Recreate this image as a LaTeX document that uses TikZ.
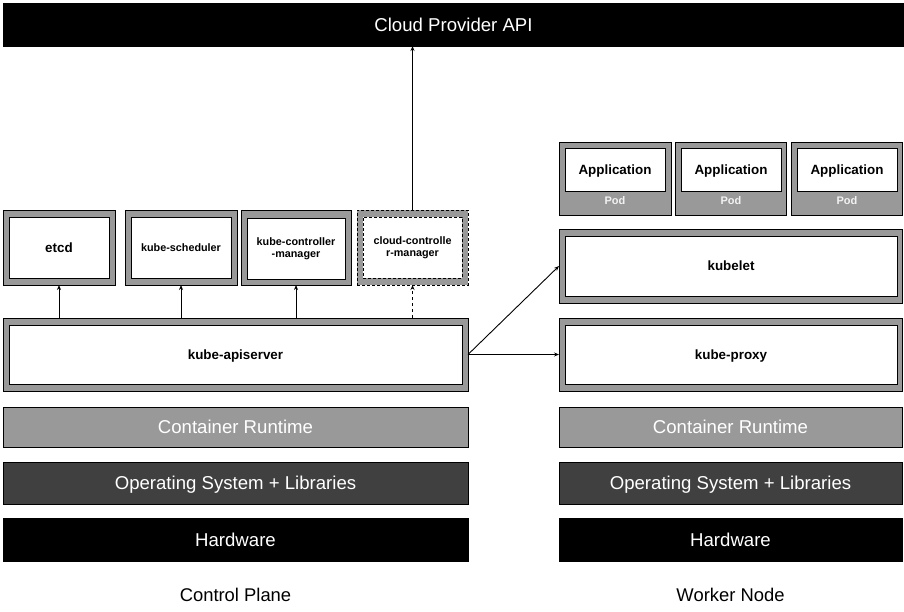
\documentclass[tikz,border=0pt]{standalone}
\usepackage{fontspec}
\setmainfont{Liberation Sans}
\usetikzlibrary{arrows.meta}
\definecolor{midgray}{HTML}{999999}
\definecolor{darkgray2}{HTML}{404040}
\definecolor{podtext}{HTML}{F2F2F2}
\tikzset{
  box/.style={draw=black, line width=1pt, inner sep=0pt, outer sep=0pt, rectangle, align=center},
  outerbox/.style={box, fill=midgray},
  innerbox/.style={box, fill=white, font=\bfseries\fontsize{10.8}{12}\selectfont},
  bigbold/.style={font=\bfseries\fontsize{13.4}{15}\selectfont, text depth=0pt},
  layer/.style={box, text=white, font=\fontsize{18.6}{21}\selectfont, text depth=0pt},
  dashedbox/.style={dash pattern=on 3pt off 2pt},
  conn/.style={line width=0.9pt, -{Stealth[length=5pt,width=4pt]}},
  caption/.style={font=\fontsize{18.4}{21}\selectfont},
  podlabel/.style={text=podtext, font=\bfseries\fontsize{11}{13}\selectfont, inner sep=0pt, text depth=0pt}
}
\begin{document}
\begin{tikzpicture}[x=1pt,y=-1pt]
\useasboundingbox (0,0) rectangle (904,611);
% Cloud provider
\node[layer, fill=black, minimum width=900pt, minimum height=43pt] (cloud) at (453.5,24.5) {Cloud Provider API};
% control plane components
\node[outerbox, minimum width=112pt, minimum height=75pt] (etcdO) at (59,247.5) {};
\node[innerbox, bigbold, minimum width=100pt, minimum height=61pt] (etcd) at (59,247.5) {etcd};
\node[outerbox, minimum width=112pt, minimum height=75pt] (schedO) at (181,247.5) {};
\node[innerbox, minimum width=100pt, minimum height=61pt] (sched) at (181,247.5) {kube-scheduler};
\node[outerbox, minimum width=110pt, minimum height=75pt] (kcmO) at (296,247.5) {};
\node[innerbox, minimum width=98pt, minimum height=61pt] (kcm) at (296,248.5) {kube-controller\\-manager};
\node[outerbox, dashedbox, minimum width=111pt, minimum height=75pt] (ccmO) at (412.5,247.5) {};
\node[innerbox, dashedbox, minimum width=99pt, minimum height=61pt] (ccm) at (412.5,247.5) {cloud-controlle\\r-manager};
% apiserver
\node[outerbox, minimum width=465pt, minimum height=73pt] (apiO) at (235.5,354.5) {};
\node[innerbox, bigbold, minimum width=453pt, minimum height=59pt] (api) at (235.5,354.5) {kube-apiserver};
% pods
\node[outerbox, minimum width=112pt, minimum height=73pt] (pod1O) at (615,178.5) {};
\node[innerbox, bigbold, minimum width=100pt, minimum height=43pt] (app1) at (615,169.5) {Application};
\node[podlabel] (pod1) at (615,200.5) {Pod};
\node[outerbox, minimum width=111pt, minimum height=73pt] (pod2O) at (730.5,178.5) {};
\node[innerbox, bigbold, minimum width=100pt, minimum height=43pt] (app2) at (731,169.5) {Application};
\node[podlabel] (pod2) at (731,200.5) {Pod};
\node[outerbox, minimum width=111pt, minimum height=73pt] (pod3O) at (846.5,178.5) {};
\node[innerbox, bigbold, minimum width=100pt, minimum height=43pt] (app3) at (847,169.5) {Application};
\node[podlabel] (pod3) at (847,200.5) {Pod};
% kubelet, kube-proxy
\node[outerbox, minimum width=343pt, minimum height=74pt] (kubeletO) at (730.5,266) {};
\node[innerbox, bigbold, minimum width=332pt, minimum height=60pt] (kubelet) at (731,266) {kubelet};
\node[outerbox, minimum width=343pt, minimum height=73pt] (proxyO) at (730.5,354.5) {};
\node[innerbox, bigbold, minimum width=332pt, minimum height=59pt] (proxy) at (731,354.5) {kube-proxy};
% layers
\node[layer, fill=midgray, minimum width=465pt, minimum height=40pt] (crL) at (235.5,427) {Container Runtime};
\node[layer, fill=midgray, minimum width=343pt, minimum height=40pt] (crR) at (730.5,427) {Container Runtime};
\node[layer, fill=darkgray2, minimum width=465pt, minimum height=42pt] (osL) at (235.5,483) {Operating System + Libraries};
\node[layer, fill=darkgray2, minimum width=343pt, minimum height=42pt] (osR) at (730.5,483) {Operating System + Libraries};
\node[layer, fill=black, minimum width=465pt, minimum height=43pt] (hwL) at (235.5,539.5) {Hardware};
\node[layer, fill=black, minimum width=343pt, minimum height=43pt] (hwR) at (730.5,539.5) {Hardware};
% captions
\node[caption, text depth=0pt] (cp) at (235.5,595) {Control Plane};
\node[caption, text depth=0pt] (wn) at (730.5,595) {Worker Node};
% connectors
\draw[conn] (etcdO.south |- apiO.north) -- (etcdO.south);
\draw[conn] (schedO.south |- apiO.north) -- (schedO.south);
\draw[conn] (kcmO.south |- apiO.north) -- (kcmO.south);
\draw[conn, dashed] (ccmO.south |- apiO.north) -- (ccmO.south);
\draw[conn] (ccmO.north) -- (ccmO.north |- cloud.south);
\draw[conn] (apiO.east) -- (kubeletO.west);
\draw[conn] (apiO.east) -- (proxyO.west);
\end{tikzpicture}
\end{document}
